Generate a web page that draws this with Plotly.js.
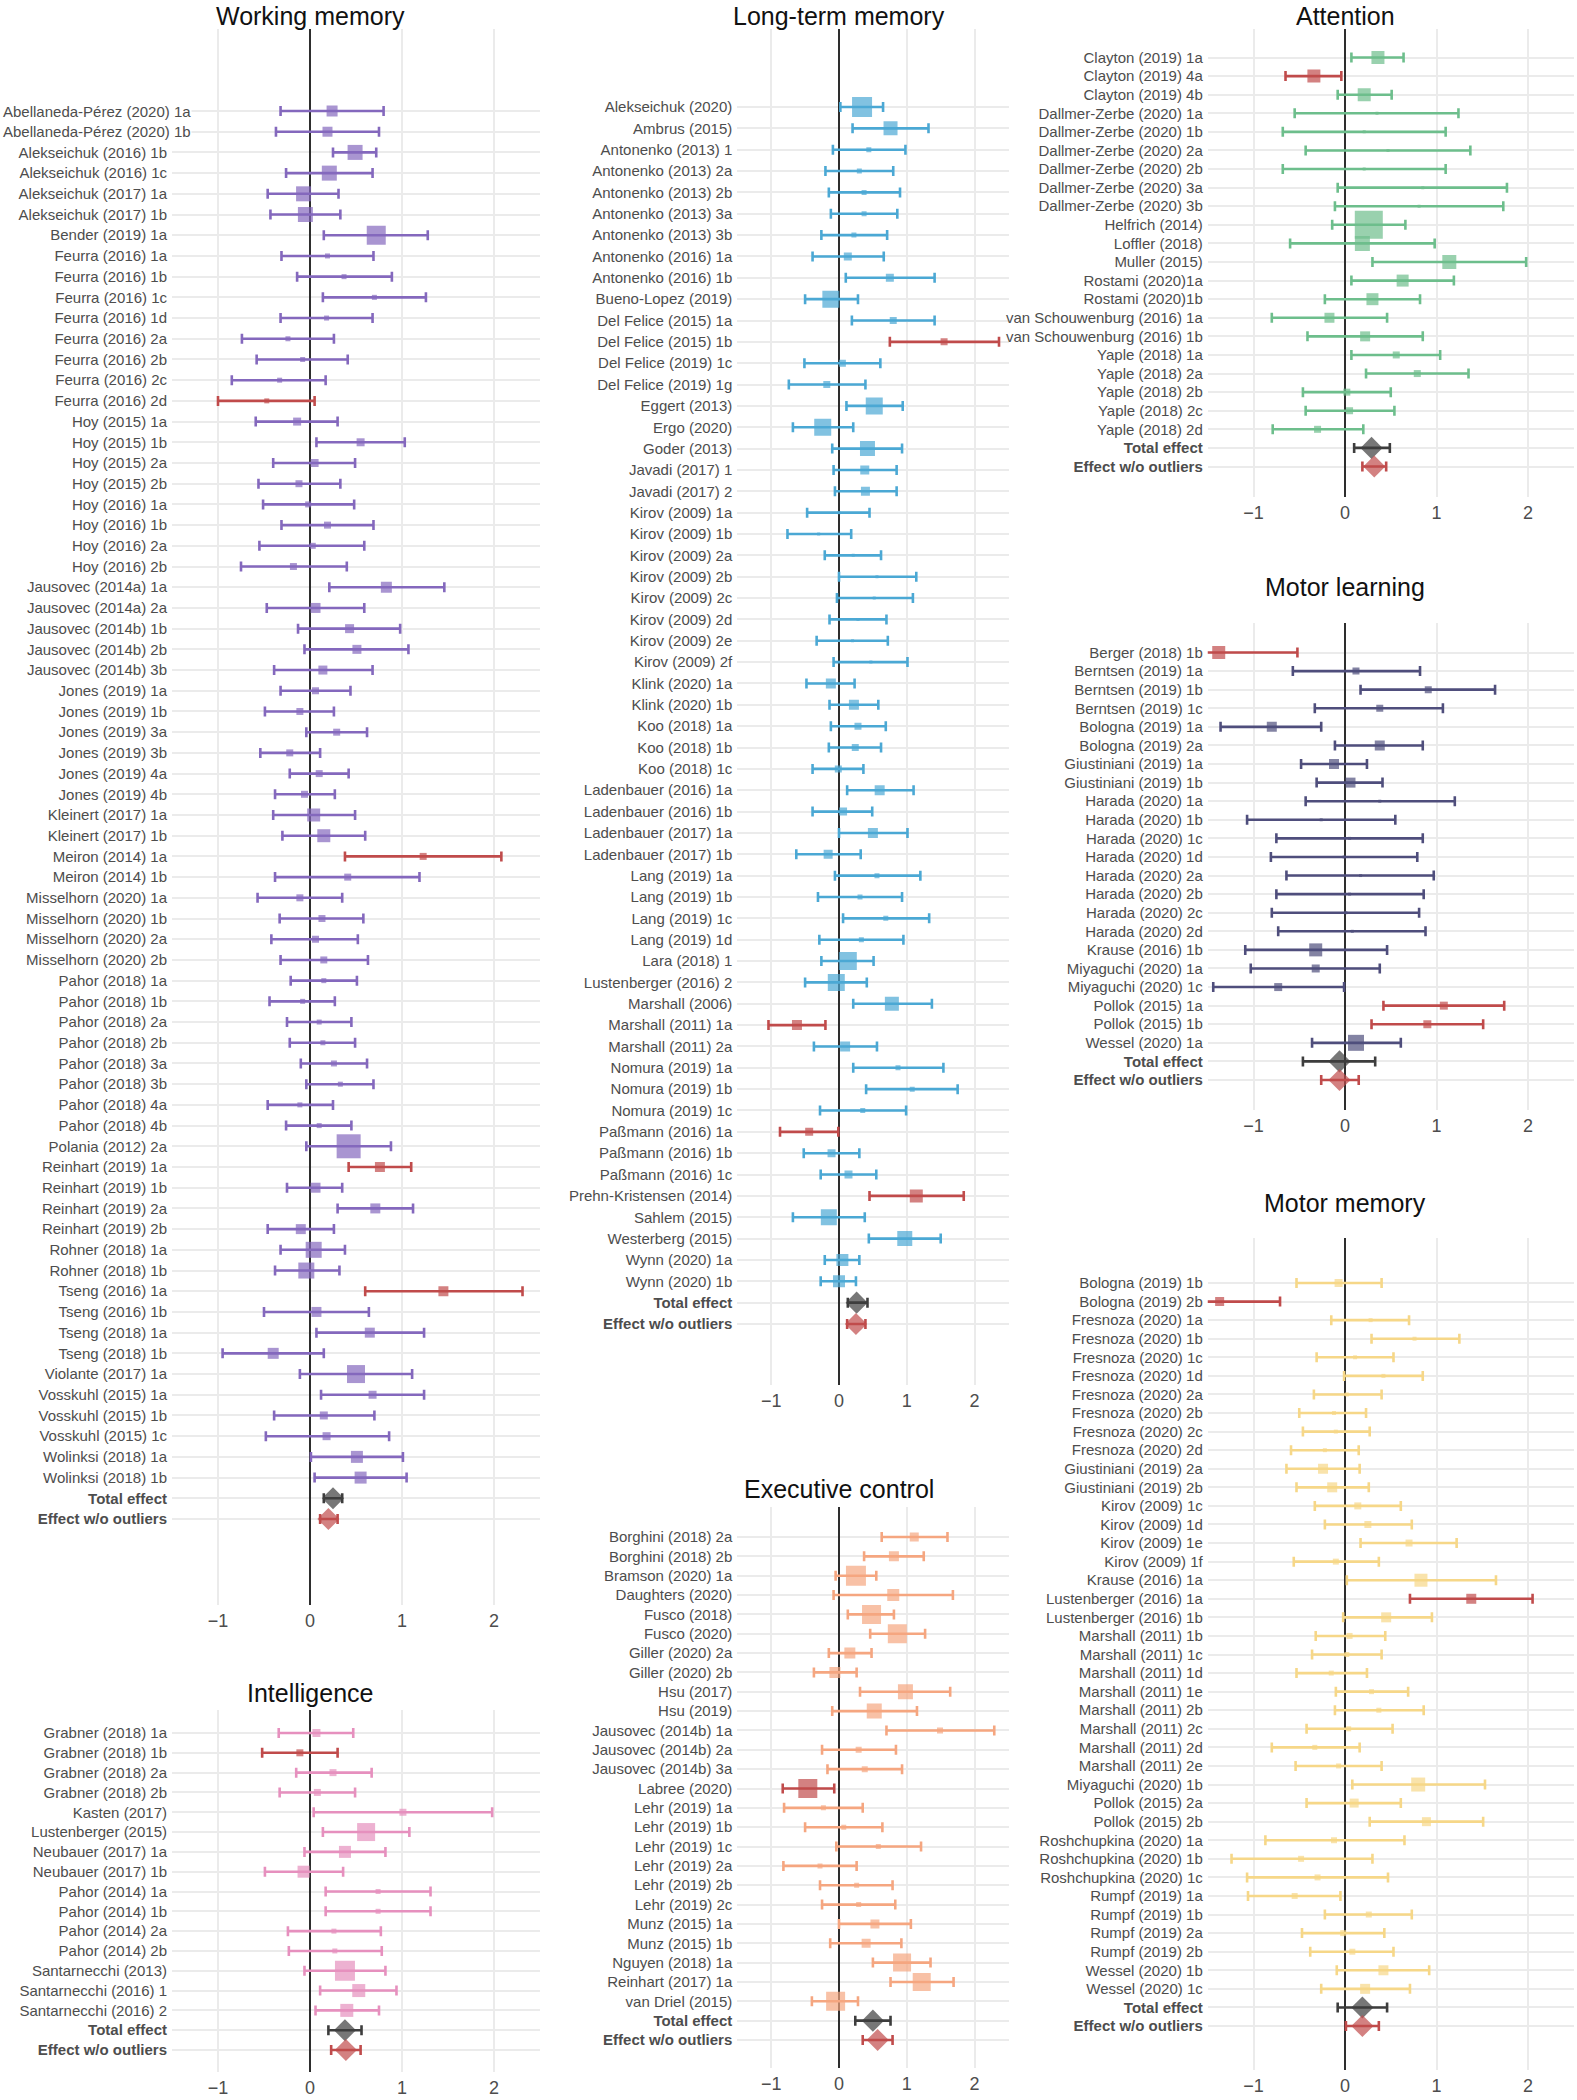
<!DOCTYPE html>
<html><head><meta charset="utf-8">
<script src="https://cdn.plot.ly/plotly-3.0.1.min.js"></script>
<style>body{margin:0;background:#fff}</style>
</head><body><div id="chart" style="width:1577px;height:2100px"></div>
<script>
// ---------------- DATA ----------------
const wmLabels = ['Abellaneda-Pérez (2020) 1a','Abellaneda-Pérez (2020) 1b','Alekseichuk (2016) 1b','Alekseichuk (2016) 1c','Alekseichuk (2017) 1a','Alekseichuk (2017) 1b','Bender (2019) 1a','Feurra (2016) 1a','Feurra (2016) 1b','Feurra (2016) 1c','Feurra (2016) 1d','Feurra (2016) 2a','Feurra (2016) 2b','Feurra (2016) 2c','Feurra (2016) 2d','Hoy (2015) 1a','Hoy (2015) 1b','Hoy (2015) 2a','Hoy (2015) 2b','Hoy (2016) 1a','Hoy (2016) 1b','Hoy (2016) 2a','Hoy (2016) 2b','Jausovec (2014a) 1a','Jausovec (2014a) 2a','Jausovec (2014b) 1b','Jausovec (2014b) 2b','Jausovec (2014b) 3b','Jones (2019) 1a','Jones (2019) 1b','Jones (2019) 3a','Jones (2019) 3b','Jones (2019) 4a','Jones (2019) 4b','Kleinert (2017) 1a','Kleinert (2017) 1b','Meiron (2014) 1a','Meiron (2014) 1b','Misselhorn (2020) 1a','Misselhorn (2020) 1b','Misselhorn (2020) 2a','Misselhorn (2020) 2b','Pahor (2018) 1a','Pahor (2018) 1b','Pahor (2018) 2a','Pahor (2018) 2b','Pahor (2018) 3a','Pahor (2018) 3b','Pahor (2018) 4a','Pahor (2018) 4b','Polania (2012) 2a','Reinhart (2019) 1a','Reinhart (2019) 1b','Reinhart (2019) 2a','Reinhart (2019) 2b','Rohner (2018) 1a','Rohner (2018) 1b','Tseng (2016) 1a','Tseng (2016) 1b','Tseng (2018) 1a','Tseng (2018) 1b','Violante (2017) 1a','Vosskuhl (2015) 1a','Vosskuhl (2015) 1b','Vosskuhl (2015) 1c','Wolinksi (2018) 1a','Wolinksi (2018) 1b','Total effect','Effect w/o outliers'];
const wmEst  = [0.24,0.19,0.49,0.21,-0.07,-0.05,0.72,0.19,0.37,0.70,0.18,-0.24,-0.08,-0.33,-0.47,-0.14,0.55,0.05,-0.12,-0.02,0.19,0.03,-0.18,0.83,0.06,0.43,0.51,0.14,0.06,-0.11,0.29,-0.22,0.10,-0.06,0.04,0.15,1.23,0.41,-0.11,0.13,0.06,0.15,0.15,-0.08,0.10,0.14,0.26,0.33,-0.11,0.10,0.42,0.76,0.06,0.71,-0.10,0.04,-0.04,1.45,0.07,0.65,-0.40,0.50,0.68,0.15,0.18,0.51,0.55,0.25,0.20];
const wmLow  = [-0.32,-0.37,0.25,-0.26,-0.46,-0.43,0.15,-0.31,-0.14,0.14,-0.32,-0.74,-0.58,-0.85,-1.00,-0.59,0.07,-0.40,-0.56,-0.51,-0.31,-0.55,-0.75,0.21,-0.47,-0.13,-0.06,-0.39,-0.32,-0.49,-0.04,-0.54,-0.22,-0.38,-0.40,-0.30,0.38,-0.38,-0.57,-0.33,-0.42,-0.32,-0.21,-0.44,-0.25,-0.22,-0.10,-0.04,-0.46,-0.26,-0.04,0.42,-0.25,0.30,-0.46,-0.32,-0.38,0.60,-0.50,0.07,-0.95,-0.11,0.12,-0.39,-0.48,0.01,0.05,0.15,0.11];
const wmHigh = [0.80,0.75,0.72,0.68,0.31,0.33,1.28,0.69,0.89,1.26,0.68,0.26,0.41,0.17,0.05,0.30,1.03,0.49,0.33,0.48,0.69,0.59,0.40,1.46,0.59,0.98,1.07,0.68,0.44,0.26,0.62,0.11,0.42,0.27,0.49,0.60,2.08,1.19,0.35,0.58,0.52,0.63,0.51,0.27,0.45,0.49,0.62,0.69,0.25,0.45,0.88,1.10,0.35,1.12,0.26,0.38,0.32,2.31,0.64,1.24,0.15,1.11,1.24,0.70,0.86,1.01,1.05,0.35,0.30];
const wmWeight = [11,10,15,15,15,15,19,5,5,5,5,5,5,5,5,8,8,8,7,6,7,6,7,11,10,9,9,9,7,7,7,7,7,7,13,13,7,7,7,7,7,7,5,5,5,5,6,5,5,5,24,10,10,10,10,16,16,10,10,10,11,18,8,8,8,12,12];
const wmOutliers = ['Feurra (2016) 2d','Meiron (2014) 1a','Reinhart (2019) 1a','Tseng (2016) 1a'];

const intLabels = ['Grabner (2018) 1a','Grabner (2018) 1b','Grabner (2018) 2a','Grabner (2018) 2b','Kasten (2017)','Lustenberger (2015)','Neubauer (2017) 1a','Neubauer (2017) 1b','Pahor (2014) 1a','Pahor (2014) 1b','Pahor (2014) 2a','Pahor (2014) 2b','Santarnecchi (2013)','Santarnecchi (2016) 1','Santarnecchi (2016) 2','Total effect','Effect w/o outliers'];
const intEst  = [0.07,-0.11,0.25,0.08,1.01,0.61,0.38,-0.07,0.74,0.74,0.26,0.27,0.38,0.53,0.40,0.38,0.39];
const intLow  = [-0.34,-0.52,-0.15,-0.33,0.04,0.14,-0.06,-0.49,0.17,0.17,-0.24,-0.23,-0.06,0.11,0.06,0.20,0.23];
const intHigh = [0.47,0.30,0.67,0.49,1.98,1.08,0.82,0.36,1.31,1.31,0.77,0.78,0.82,0.94,0.75,0.56,0.55];
const intWeight = [8,7,7,7,7,18,12,12,5,5,5,5,20,13,13];
const intOutliers = ['Grabner (2018) 1b'];

const ltmLabels = ['Alekseichuk (2020)','Ambrus (2015)','Antonenko (2013) 1','Antonenko (2013) 2a','Antonenko (2013) 2b','Antonenko (2013) 3a','Antonenko (2013) 3b','Antonenko (2016) 1a','Antonenko (2016) 1b','Bueno-Lopez (2019)','Del Felice (2015) 1a','Del Felice (2015) 1b','Del Felice (2019) 1c','Del Felice (2019) 1g','Eggert (2013)','Ergo (2020)','Goder (2013)','Javadi (2017) 1','Javadi (2017) 2','Kirov (2009) 1a','Kirov (2009) 1b','Kirov (2009) 2a','Kirov (2009) 2b','Kirov (2009) 2c','Kirov (2009) 2d','Kirov (2009) 2e','Kirov (2009) 2f','Klink (2020) 1a','Klink (2020) 1b','Koo (2018) 1a','Koo (2018) 1b','Koo (2018) 1c','Ladenbauer (2016) 1a','Ladenbauer (2016) 1b','Ladenbauer (2017) 1a','Ladenbauer (2017) 1b','Lang (2019) 1a','Lang (2019) 1b','Lang (2019) 1c','Lang (2019) 1d','Lara (2018) 1','Lustenberger (2016) 2','Marshall (2006)','Marshall (2011) 1a','Marshall (2011) 2a','Nomura (2019) 1a','Nomura (2019) 1b','Nomura (2019) 1c','Paßmann (2016) 1a','Paßmann (2016) 1b','Paßmann (2016) 1c','Prehn-Kristensen (2014)','Sahlem (2015)','Westerberg (2015)','Wynn (2020) 1a','Wynn (2020) 1b','Total effect','Effect w/o outliers'];
const ltmEst  = [0.34,0.76,0.44,0.30,0.37,0.37,0.22,0.13,0.75,-0.12,0.80,1.55,0.05,-0.18,0.52,-0.24,0.42,0.38,0.39,0.00,-0.30,0.21,0.56,0.52,0.28,0.20,0.47,-0.12,0.22,0.28,0.24,-0.01,0.60,0.06,0.50,-0.16,0.56,0.31,0.69,0.33,0.13,-0.04,0.78,-0.62,0.09,0.87,1.08,0.35,-0.44,-0.11,0.14,1.14,-0.15,0.97,0.05,0.00,0.26,0.25];
const ltmLow  = [0.02,0.20,-0.09,-0.20,-0.15,-0.12,-0.26,-0.39,0.10,-0.50,0.19,0.75,-0.51,-0.74,0.11,-0.68,-0.10,-0.08,-0.06,-0.47,-0.76,-0.21,0.00,-0.03,-0.14,-0.33,-0.08,-0.48,-0.14,-0.12,-0.15,-0.39,0.12,-0.39,0.00,-0.63,-0.06,-0.31,0.06,-0.29,-0.26,-0.50,0.21,-1.04,-0.37,0.21,0.40,-0.28,-0.87,-0.52,-0.27,0.45,-0.68,0.44,-0.21,-0.27,0.13,0.12];
const ltmHigh = [0.65,1.32,0.98,0.80,0.90,0.86,0.71,0.66,1.41,0.28,1.41,2.36,0.61,0.39,0.94,0.21,0.93,0.85,0.85,0.45,0.18,0.62,1.14,1.09,0.70,0.72,1.01,0.23,0.58,0.69,0.62,0.36,1.10,0.49,1.01,0.32,1.20,0.93,1.33,0.95,0.51,0.41,1.37,-0.20,0.56,1.54,1.75,0.99,-0.01,0.30,0.55,1.84,0.38,1.50,0.30,0.25,0.42,0.39];
const ltmWeight = [20,14,5,5,5,5,5,8,8,17,7,7,7,7,17,17,15,9,9,3,3,3,3,3,3,3,3,10,10,7,7,7,10,8,10,9,5,5,5,5,18,17,14,10,10,5,5,5,8,8,8,13,16,15,12,12];
const ltmOutliers = ['Del Felice (2015) 1b','Marshall (2011) 1a','Paßmann (2016) 1a','Prehn-Kristensen (2014)'];

const exLabels = ['Borghini (2018) 2a','Borghini (2018) 2b','Bramson (2020) 1a','Daughters (2020)','Fusco (2018)','Fusco (2020)','Giller (2020) 2a','Giller (2020) 2b','Hsu (2017)','Hsu (2019)','Jausovec (2014b) 1a','Jausovec (2014b) 2a','Jausovec (2014b) 3a','Labree (2020)','Lehr (2019) 1a','Lehr (2019) 1b','Lehr (2019) 1c','Lehr (2019) 2a','Lehr (2019) 2b','Lehr (2019) 2c','Munz (2015) 1a','Munz (2015) 1b','Nguyen (2018) 1a','Reinhart (2017) 1a','van Driel (2015)','Total effect','Effect w/o outliers'];
const exEst  = [1.11,0.81,0.25,0.80,0.48,0.86,0.16,-0.06,0.98,0.52,1.49,0.29,0.38,-0.46,-0.23,0.07,0.58,-0.28,0.26,0.29,0.53,0.40,0.93,1.22,-0.05,0.50,0.57];
const exLow  = [0.63,0.37,-0.05,-0.08,0.13,0.46,-0.15,-0.37,0.31,-0.10,0.70,-0.25,-0.17,-0.83,-0.81,-0.50,-0.04,-0.82,-0.28,-0.25,0.00,-0.13,0.50,0.76,-0.40,0.24,0.35];
const exHigh = [1.60,1.25,0.55,1.68,0.81,1.27,0.48,0.26,1.64,1.15,2.29,0.84,0.93,-0.07,0.35,0.64,1.21,0.26,0.79,0.83,1.06,0.92,1.35,1.69,0.28,0.76,0.79];
const exWeight = [9,10,20,12,19,19,11,11,15,15,6,6,6,19,5,5,5,5,5,5,9,9,18,18,19];
const exOutliers = ['Labree (2020)'];

const attLabels = ['Clayton (2019) 1a','Clayton (2019) 4a','Clayton (2019) 4b','Dallmer-Zerbe (2020) 1a','Dallmer-Zerbe (2020) 1b','Dallmer-Zerbe (2020) 2a','Dallmer-Zerbe (2020) 2b','Dallmer-Zerbe (2020) 3a','Dallmer-Zerbe (2020) 3b','Helfrich (2014)','Loffler (2018)','Muller (2015)','Rostami (2020)1a','Rostami (2020)1b','van Schouwenburg (2016) 1a','van Schouwenburg (2016) 1b','Yaple (2018) 1a','Yaple (2018) 2a','Yaple (2018) 2b','Yaple (2018) 2c','Yaple (2018) 2d','Total effect','Effect w/o outliers'];
const attEst  = [0.36,-0.34,0.21,0.35,0.21,0.47,0.21,0.85,0.81,0.26,0.19,1.14,0.63,0.30,-0.17,0.22,0.56,0.79,0.02,0.05,-0.30,0.29,0.32];
const attLow  = [0.07,-0.65,-0.08,-0.55,-0.68,-0.43,-0.68,-0.08,-0.11,-0.14,-0.60,0.30,0.07,-0.22,-0.80,-0.41,0.07,0.23,-0.46,-0.43,-0.79,0.10,0.19];
const attHigh = [0.64,-0.04,0.51,1.24,1.10,1.37,1.10,1.77,1.73,0.66,0.98,1.98,1.19,0.82,0.46,0.85,1.04,1.35,0.50,0.54,0.20,0.49,0.45];
const attWeight = [13,13,13,3,3,3,3,3,3,28,15,14,12,12,10,10,7,7,7,7,7];
const attOutliers = ['Clayton (2019) 4a'];

const mlLabels = ['Berger (2018) 1b','Berntsen (2019) 1a','Berntsen (2019) 1b','Berntsen (2019) 1c','Bologna (2019) 1a','Bologna (2019) 2a','Giustiniani (2019) 1a','Giustiniani (2019) 1b','Harada (2020) 1a','Harada (2020) 1b','Harada (2020) 1c','Harada (2020) 1d','Harada (2020) 2a','Harada (2020) 2b','Harada (2020) 2c','Harada (2020) 2d','Krause (2016) 1b','Miyaguchi (2020) 1a','Miyaguchi (2020) 1c','Pollok (2015) 1a','Pollok (2015) 1b','Wessel (2020) 1a','Total effect','Effect w/o outliers'];
const mlEst  = [-1.38,0.12,0.91,0.38,-0.80,0.38,-0.12,0.06,0.38,-0.26,0.05,-0.01,0.17,0.05,0.01,0.08,-0.32,-0.32,-0.73,1.08,0.90,0.12,-0.06,-0.06];
const mlLow  = [-2.10,-0.57,0.17,-0.33,-1.36,-0.11,-0.48,-0.31,-0.43,-1.07,-0.75,-0.81,-0.64,-0.75,-0.80,-0.73,-1.09,-1.03,-1.44,0.42,0.29,-0.36,-0.46,-0.26];
const mlHigh = [-0.52,0.82,1.64,1.07,-0.26,0.85,0.24,0.41,1.20,0.55,0.85,0.79,0.97,0.86,0.81,0.88,0.46,0.38,-0.01,1.74,1.51,0.61,0.33,0.15];
const mlWeight = [13,7,7,7,10,10,10,10,3,3,3,3,3,3,3,3,13,8,8,8,8,16];
const mlOutliers = ['Berger (2018) 1b','Pollok (2015) 1a','Pollok (2015) 1b'];

const mmLabels = ['Bologna (2019) 1b','Bologna (2019) 2b','Fresnoza (2020) 1a','Fresnoza (2020) 1b','Fresnoza (2020) 1c','Fresnoza (2020) 1d','Fresnoza (2020) 2a','Fresnoza (2020) 2b','Fresnoza (2020) 2c','Fresnoza (2020) 2d','Giustiniani (2019) 2a','Giustiniani (2019) 2b','Kirov (2009) 1c','Kirov (2009) 1d','Kirov (2009) 1e','Kirov (2009) 1f','Krause (2016) 1a','Lustenberger (2016) 1a','Lustenberger (2016) 1b','Marshall (2011) 1b','Marshall (2011) 1c','Marshall (2011) 1d','Marshall (2011) 1e','Marshall (2011) 2b','Marshall (2011) 2c','Marshall (2011) 2d','Marshall (2011) 2e','Miyaguchi (2020) 1b','Pollok (2015) 2a','Pollok (2015) 2b','Roshchupkina (2020) 1a','Roshchupkina (2020) 1b','Roshchupkina (2020) 1c','Rumpf (2019) 1a','Rumpf (2019) 1b','Rumpf (2019) 2a','Rumpf (2019) 2b','Wessel (2020) 1b','Wessel (2020) 1c','Total effect','Effect w/o outliers'];
const mmEst  = [-0.07,-1.37,0.28,0.76,0.11,0.42,0.02,-0.12,-0.10,-0.22,-0.24,-0.14,0.14,0.25,0.70,-0.10,0.83,1.38,0.45,0.05,0.02,-0.15,0.29,0.37,0.04,-0.33,-0.07,0.80,0.10,0.89,-0.12,-0.48,-0.30,-0.55,0.26,-0.02,0.08,0.42,0.22,0.19,0.19];
const mmLow  = [-0.53,-2.00,-0.15,0.29,-0.31,-0.01,-0.34,-0.50,-0.46,-0.59,-0.64,-0.53,-0.33,-0.22,0.17,-0.56,0.02,0.71,-0.02,-0.32,-0.36,-0.53,-0.10,-0.11,-0.42,-0.80,-0.54,0.08,-0.42,0.27,-0.87,-1.24,-1.07,-1.06,-0.22,-0.47,-0.38,-0.09,-0.26,-0.08,0.01];
const mmHigh = [0.40,-0.71,0.70,1.25,0.53,0.85,0.40,0.23,0.27,0.15,0.16,0.26,0.61,0.73,1.22,0.37,1.65,2.05,0.95,0.44,0.40,0.24,0.69,0.86,0.52,0.16,0.40,1.53,0.61,1.51,0.65,0.30,0.47,-0.05,0.73,0.43,0.53,0.92,0.71,0.46,0.37];
const mmWeight = [8,9,4,4,4,4,4,4,4,4,10,10,7,7,7,6,13,10,10,6,5,5,5,5,5,5,5,14,9,9,6,6,6,6,6,6,6,10,10];
const mmOutliers = ['Bologna (2019) 2b','Lustenberger (2016) 1a'];

const xTickVals = [-1, 0, 1, 2];
const xTickText = ['\u22121', '0', '1', '2'];

// ---------------- LAYOUT / STYLE ----------------
const W = 1577, H = 2100;
const FONT = 'Liberation Sans, Arial, Helvetica, sans-serif';
const RED = '#C04B4B';
const DARK = '#3D3D3D';
const LABEL_COL = '#4D4D4D';
const LABEL_SIZE = 15;

const panels = [
  {title:'Working memory', labels:wmLabels, est:wmEst, low:wmLow, high:wmHigh, weight:wmWeight, outliers:wmOutliers, color:'#8468BD',
   x0:310, unit:92, top:29, bottom:1605, rowFirst:111, rowLast:1519, titleY:16, longLeft:true},
  {title:'Intelligence', labels:intLabels, est:intEst, low:intLow, high:intHigh, weight:intWeight, outliers:intOutliers, color:'#E690BE',
   x0:310, unit:92, top:1710, bottom:2072, rowFirst:1733, rowLast:2050, titleY:1693},
  {title:'Long-term memory', labels:ltmLabels, est:ltmEst, low:ltmLow, high:ltmHigh, weight:ltmWeight, outliers:ltmOutliers, color:'#4BA8D4',
   x0:839, unit:67.8, top:29, bottom:1385, rowFirst:107, rowLast:1324, titleY:16},
  {title:'Executive control', labels:exLabels, est:exEst, low:exLow, high:exHigh, weight:exWeight, outliers:exOutliers, color:'#F5A680',
   x0:839, unit:67.8, top:1507, bottom:2068, rowFirst:1537, rowLast:2040, titleY:1489},
  {title:'Attention', labels:attLabels, est:attEst, low:attLow, high:attHigh, weight:attWeight, outliers:attOutliers, color:'#6DBE8C',
   x0:1345, unit:91.5, top:29, bottom:497, rowFirst:57.5, rowLast:466.5, titleY:16},
  {title:'Motor learning', labels:mlLabels, est:mlEst, low:mlLow, high:mlHigh, weight:mlWeight, outliers:mlOutliers, color:'#4F4E7C',
   x0:1345, unit:91.5, top:623, bottom:1110, rowFirst:652.5, rowLast:1080, titleY:587},
  {title:'Motor memory', labels:mmLabels, est:mmEst, low:mmLow, high:mmHigh, weight:mmWeight, outliers:mmOutliers, color:'#F6D788',
   x0:1345, unit:91.5, top:1238, bottom:2070, rowFirst:1283, rowLast:2026, titleY:1203}
];

const traces = [];
const layout = {
  width: W, height: H,
  margin: {l:0, r:0, t:0, b:0},
  paper_bgcolor: '#ffffff', plot_bgcolor: '#ffffff',
  showlegend: false,
  font: {family: FONT, color: LABEL_COL},
  annotations: []
};

function groupTrace(ax, ay, idxs, p, color, symbol, sizeFn) {
  return {
    type: 'scatter', mode: 'markers', xaxis: ax, yaxis: ay,
    x: idxs.map(i => p.est[i]),
    y: idxs.map(i => i + 1),
    marker: {symbol: symbol, color: color, size: idxs.map(sizeFn), line: {width: 0}},
    error_x: {type: 'data', symmetric: false,
      array: idxs.map(i => p.high[i] - p.est[i]),
      arrayminus: idxs.map(i => p.est[i] - p.low[i]),
      color: color, thickness: 2.6, width: 5},
    hoverinfo: 'skip'
  };
}

panels.forEach((p, k) => {
  const n = p.labels.length;
  const sfx = k === 0 ? '' : String(k + 1);
  const ax = 'x' + sfx, ay = 'y' + sfx;
  const sp = (p.rowLast - p.rowFirst) / (n - 1);
  const yTop = 1 - (p.rowFirst - p.top) / sp;
  const yBot = n + (p.bottom - p.rowLast) / sp;
  const left = p.x0 - 1.5 * p.unit, right = p.x0 + 2.5 * p.unit;

  const ticktext = p.labels.map(l => {
    if (l === 'Total effect' || l === 'Effect w/o outliers') return '<b>' + l + '</b>';
    if (p.longLeft && l.length > 24) return '';
    return l;
  });

  layout['xaxis' + sfx] = {
    domain: [left / W, right / W], range: [-1.5, 2.5], anchor: ay,
    tickvals: xTickVals, ticktext: xTickText, ticks: '',
    tickfont: {family: FONT, size: 18, color: LABEL_COL},
    showgrid: true, gridcolor: '#EBEBEB', gridwidth: 2,
    zeroline: true, zerolinecolor: '#2E2E2E', zerolinewidth: 2.5,
    showline: false, fixedrange: true, ticklabelstandoff: 3
  };
  layout['yaxis' + sfx] = {
    domain: [1 - p.bottom / H, 1 - p.top / H], range: [yBot, yTop], anchor: ax,
    tickvals: p.labels.map((l, i) => i + 1), ticktext: ticktext, ticks: '',
    tickfont: {family: FONT, size: LABEL_SIZE, color: LABEL_COL},
    showgrid: true, gridcolor: '#EBEBEB', gridwidth: 2,
    zeroline: false, showline: false, fixedrange: true, ticklabelstandoff: 4
  };

  if (p.longLeft) {
    p.labels.forEach((l, i) => {
      if (l.length > 24 && l !== 'Effect w/o outliers') {
        layout.annotations.push({xref: 'paper', yref: ay, x: 2 / W, y: i + 1, xanchor: 'left', yanchor: 'middle',
          text: l, showarrow: false, bgcolor: '#ffffff', borderpad: 0,
          font: {family: FONT, size: LABEL_SIZE, color: LABEL_COL}});
      }
    });
  }

  layout.annotations.push({xref: ax, yref: 'paper', x: 0, y: 1 - p.titleY / H, xanchor: 'center', yanchor: 'middle',
    text: p.title, showarrow: false, font: {family: FONT, size: 25, color: '#111111'}});

  const normal = [], outl = [];
  for (let i = 0; i < n - 2; i++) {
    (p.outliers.includes(p.labels[i]) ? outl : normal).push(i);
  }
  const wsize = i => p.weight[i];
  traces.push(groupTrace(ax, ay, normal, p, p.color, 'square', wsize));
  if (outl.length) traces.push(groupTrace(ax, ay, outl, p, RED, 'square', wsize));
  traces.push(groupTrace(ax, ay, [n - 2], p, DARK, 'diamond', () => 17));
  traces.push(groupTrace(ax, ay, [n - 1], p, RED, 'diamond', () => 17));
});

Plotly.newPlot('chart', traces, layout, {staticPlot: true, displayModeBar: false});
</script>
</body></html>
